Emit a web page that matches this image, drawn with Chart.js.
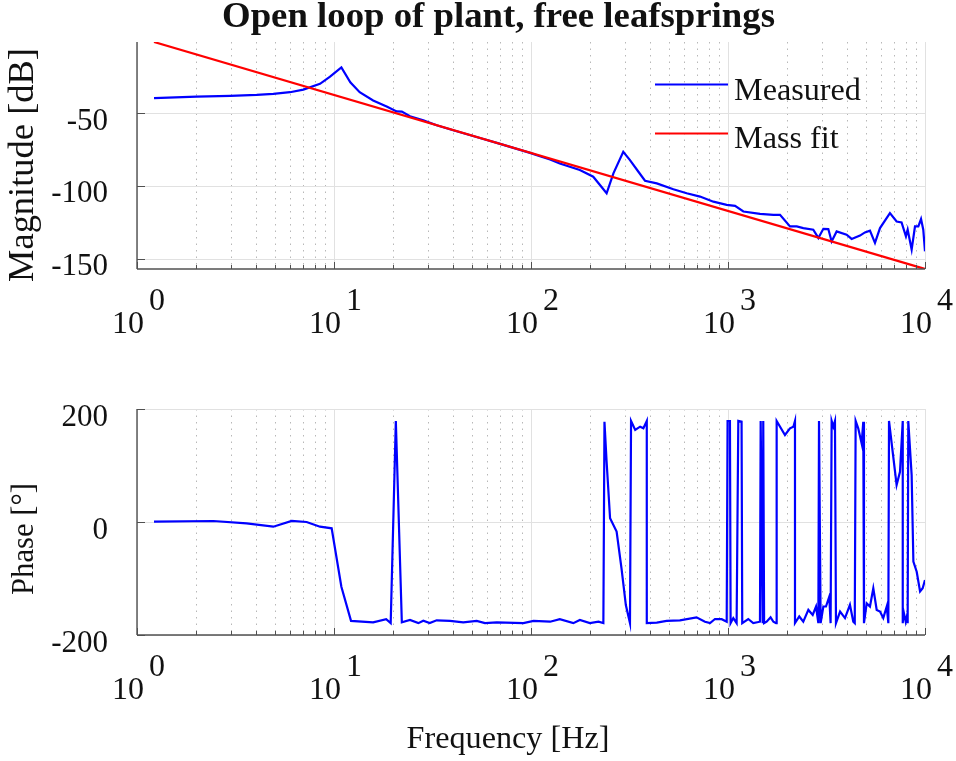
<!DOCTYPE html>
<html>
<head>
<meta charset="utf-8">
<script src="https://cdn.jsdelivr.net/npm/chart.js@4.4.1/dist/chart.umd.min.js"></script>
<style>
  html, body { margin: 0; padding: 0; background: #fff; }
  #wrap { position: relative; width: 956px; height: 761px; }
  canvas { position: absolute; left: 0; }
  #mag { top: 0; }
  #phase { top: 380px; }
</style>
</head>
<body>
<div id="wrap">
  <canvas id="mag" width="956" height="380"></canvas>
  <canvas id="phase" width="956" height="381"></canvas>
</div>
<script>
// values
const magFreq = [1.22, 2.01, 2.97, 4.05, 4.92, 5.98, 6.99, 8.49, 9.55, 10.9, 12.1, 13.5, 15.8, 18.5, 20.8, 22.1,
  24.3, 28.4, 33.2, 40.3, 55.1, 67, 98.9, 111, 125, 140, 177, 207, 242, 262, 294, 318, 351, 379, 435, 528, 617,
  721, 843, 985, 1086, 1197, 1454, 1700, 1837, 2064, 2233, 2411, 2710, 2875, 3048, 3230, 3358, 3560, 4000, 4243,
  4677, 4955, 5256, 5572, 5910, 6637, 7176, 7605, 8000, 8166, 8555, 8895, 9250, 9548, 9800, 10000];
const magMeasured = [-39.5, -38.4, -37.9, -37.2, -36.5, -35.4, -33.6, -29.6, -24.7, -18.3, -28.6, -35.4, -41.1,
  -45.2, -48.6, -48.8, -52, -54.8, -58.2, -61.6, -66.9, -70.3, -77.2, -79.5, -81.7, -84.5, -89, -93.6, -105,
  -91.3, -76.5, -82.2, -90.2, -96.4, -98.2, -102.3, -105, -107.3, -110.8, -113, -113.7, -117.6, -119.2, -119.9,
  -119.9, -127.9, -127.9, -129, -130.1, -135.8, -129.5, -129.7, -138.2, -131.3, -133.6, -136.5, -134.2, -132,
  -130.8, -139.2, -129, -118.7, -124.5, -125.1, -134.7, -130.1, -143.8, -127.9, -127.9, -122.8, -130.1, -145];

const fitFreq = [1.22, 10000];
const fitMag = [-0.8, -157.2];

const phaseFreq = [1.22, 2.44, 3.6, 4.92, 6.1, 7.26, 8.49, 9.73, 10.9, 12.2, 15.8, 18.4, 19.4, 20.6, 22.1, 24.3,
  26.8, 28.4, 30.6, 33.2, 38.8, 45.3, 53, 58.4, 67, 91.5, 103, 125, 140, 164, 177, 199, 220, 233, 236, 242, 252,
  272, 288, 303, 318, 322, 338, 358, 372, 387, 387, 435, 488, 570, 692, 764, 811, 859, 929, 985, 995, 1023, 1031,
  1064, 1106, 1128, 1172, 1181, 1267, 1343, 1453, 1465, 1500, 1510, 1525, 1571, 1645, 1700, 1754, 1766, 1946,
  2064, 2147, 2188, 2188, 2300, 2411, 2558, 2691, 2798, 2875, 2897, 2930, 2953, 3048, 3143, 3267, 3318, 3358,
  3426, 3491, 3532, 3706, 3925, 4159, 4325, 4400, 4446, 4582, 4770, 4860, 4900, 5058, 5256, 5465, 5687, 5910,
  6140, 6395, 6515, 6566, 7176, 7465, 7710, 7710, 7784, 7980, 8120, 8166, 8225, 8555, 8730, 9076, 9440, 9730, 10000];
const phaseMeasured = [0.5, 1.8, -2.4, -8.3, 1.8, 0, -8.3, -11.2, -114.5, -175, -177.5, -172, -179, 178.8, -177.5,
  -173.5, -179, -174.7, -178.8, -174, -175, -177.5, -175, -179, -177.5, -178.8, -175, -176.5, -172, -179, -173.5,
  -179, -176.5, -179, 177.5, 106.7, 6.5, -17, -82, -147, -179, 178.8, 163, 168.7, 165.8, 178.8, -179, -178, -175,
  -174, -168.7, -176.5, -179, -171.7, -172, -176.5, 178.8, 178.8, -179, -170, -179, 178.8, 177.5, -179, -171.7,
  -179, -176.5, 178.8, -179, 178.8, -179, -176.5, -168.7, -176.5, -179, 178.8, 154, 165.8, 168.7, 178.8, -179,
  -167.3, -176.5, -155.6, -164.4, -149.6, -179, 178.8, 178.8, -179, -149.6, -149.6, -132, -179, 178.8, 168.7,
  178.8, -179, -158.5, -170, -146.5, -176.5, -179, 178.8, 165.8, 139, 177.5, -179, -144, -149.6, -117.3, -155.6,
  -158.5, -170, -149.6, -179, 178.8, 65.5, 89, 178.8, -179, -158.5, -176.5, -164.4, -179, 178.8, 83, -70, -88,
  -123, -117.3, -102.6];

const decadeTicks = [1, 10, 100, 1000, 10000];
const decadeExp = ['0', '1', '2', '3', '4'];
const magTicks = [-150, -100, -50];
const phaseTicks = [-200, 0, 200];

const serif = "'Liberation Serif', 'Times New Roman', serif";
const ink = '#111';

function pts(xs, ys) {
    return xs.map((v, i) => ({ x: v, y: ys[i] }));
}

function fitSize(ctx, text, weight, width, size) {
    ctx.font = `${weight} ${size}px ${serif}`;
    return size * width / ctx.measureText(text).width;
}

function hline(ctx, x0, x1, y) { ctx.beginPath(); ctx.moveTo(x0, y); ctx.lineTo(x1, y); ctx.stroke(); }
function vline(ctx, x, y0, y1) { ctx.beginPath(); ctx.moveTo(x, y0); ctx.lineTo(x, y1); ctx.stroke(); }

function decor(yTicks, yLabel, yLabelCenter, extra) {
    return {
        id: 'decor',
        beforeDatasetsDraw(chart) {
            const { ctx, chartArea: a, scales: { x, y } } = chart;
            ctx.save();
            ctx.lineWidth = 1;
            ctx.strokeStyle = '#b8b8b8';
            ctx.setLineDash([1.5, 5]);
            decadeTicks.slice(0, -1).forEach(d => {
                for (let m = 2; m <= 9; m++) vline(ctx, Math.round(x.getPixelForValue(d * m)) + 0.5, a.top, a.bottom);
            });
            ctx.setLineDash([]);
            ctx.strokeStyle = '#e1e1e1';
            decadeTicks.forEach(d => vline(ctx, Math.round(x.getPixelForValue(d)) + 0.5, a.top, a.bottom));
            yTicks.forEach(v => hline(ctx, a.left, a.right, Math.round(y.getPixelForValue(v)) + 0.5));
            ctx.restore();
        },
        afterDatasetsDraw(chart) {
            const { ctx, chartArea: a, scales: { x, y } } = chart;
            ctx.save();
            ctx.strokeStyle = '#505050';
            ctx.lineWidth = 1.4;
            vline(ctx, a.left, a.top, a.bottom);
            hline(ctx, a.left, a.right, a.bottom);
            ctx.lineWidth = 1;
            yTicks.forEach(v => hline(ctx, a.left, a.left + 8, Math.round(y.getPixelForValue(v)) + 0.5));
            decadeTicks.forEach(d => vline(ctx, Math.round(x.getPixelForValue(d)) + 0.5, a.bottom, a.bottom - 7));
            decadeTicks.slice(0, -1).forEach(d => {
                for (let m = 2; m <= 9; m++) vline(ctx, Math.round(x.getPixelForValue(d * m)) + 0.5, a.bottom, a.bottom - 4);
            });
            if (extra) extra(chart);
            ctx.restore();
        },
        afterDraw(chart) {
            const { ctx, chartArea: a, scales: { x, y } } = chart;
            ctx.save();
            ctx.fillStyle = ink;
            ctx.font = `31px ${serif}`;
            ctx.textAlign = 'right';
            ctx.textBaseline = 'alphabetic';
            yTicks.forEach(v => ctx.fillText(String(v), 108, y.getPixelForValue(v) + 16.5));
            ctx.font = `32px ${serif}`;
            decadeTicks.forEach((d, i) => {
                const px = x.getPixelForValue(d);
                const base = a.bottom + 64;
                ctx.textAlign = 'right';
                ctx.fillText('10', px + 7, base);
                ctx.textAlign = 'left';
                ctx.fillText(decadeExp[i], px + 12, base - 23);
            });
            const s = fitSize(ctx, yLabel[0], 'normal', yLabel[1], 32);
            ctx.font = `${s}px ${serif}`;
            ctx.translate(33, yLabelCenter);
            ctx.rotate(-Math.PI / 2);
            ctx.textAlign = 'center';
            ctx.fillText(yLabel[0], 0, 0);
            ctx.restore();
        }
    };
}

function magExtra(chart) {
    const ctx = chart.ctx;
    ctx.lineWidth = 2.2;
    ctx.strokeStyle = '#0000ff';
    hline(ctx, 655, 728, 84.5);
    ctx.strokeStyle = '#ff0000';
    hline(ctx, 655, 728, 133.5);
    ctx.fillStyle = ink;
    ctx.textAlign = 'left';
    let s = fitSize(ctx, 'Measured', 'normal', 127, 32);
    ctx.font = `${s}px ${serif}`;
    ctx.fillText('Measured', 734, 100);
    ctx.fillText('Mass fit', 734, 148);
    s = fitSize(ctx, 'Open loop of plant, free leafsprings', 'bold', 553, 32);
    ctx.font = `bold ${s}px ${serif}`;
    ctx.textAlign = 'center';
    ctx.fillText('Open loop of plant, free leafsprings', 498.5, 27);
}

function phaseExtra(chart) {
    const ctx = chart.ctx;
    ctx.fillStyle = ink;
    const s = fitSize(ctx, 'Frequency [Hz]', 'normal', 203, 32);
    ctx.font = `${s}px ${serif}`;
    ctx.textAlign = 'center';
    ctx.fillText('Frequency [Hz]', 508, 368);
}

const baseOptions = (ymin, ymax, padding) => ({
    responsive: false,
    animation: false,
    devicePixelRatio: 1,
    layout: { padding },
    plugins: { legend: { display: false }, tooltip: { enabled: false } },
    elements: { point: { radius: 0 }, line: { borderWidth: 2.2, tension: 0 } },
    scales: {
        x: { type: 'logarithmic', min: 1, max: 10000, display: false },
        y: { type: 'linear', min: ymin, max: ymax, display: false }
    }
});

new Chart(document.getElementById('mag'), {
    type: 'line',
    data: {
        datasets: [
            { label: 'Measured', data: pts(magFreq, magMeasured), borderColor: '#0000ff', order: 1 },
            { label: 'Mass fit', data: pts(fitFreq, fitMag), borderColor: '#ff0000', order: 0 }
        ]
    },
    options: baseOptions(-157.2, -0.8, { left: 137, right: 31, top: 42, bottom: 111 }),
    plugins: [decor(magTicks, ['Magnitude [dB]', 234], 165, magExtra)]
});

new Chart(document.getElementById('phase'), {
    type: 'line',
    data: {
        datasets: [
            { label: 'Measured', data: pts(phaseFreq, phaseMeasured), borderColor: '#0000ff' }
        ]
    },
    options: baseOptions(-200, 200, { left: 137, right: 31, top: 29, bottom: 126 }),
    plugins: [decor(phaseTicks, ['Phase [°]', 112], 159, phaseExtra)]
});
</script>
</body>
</html>
